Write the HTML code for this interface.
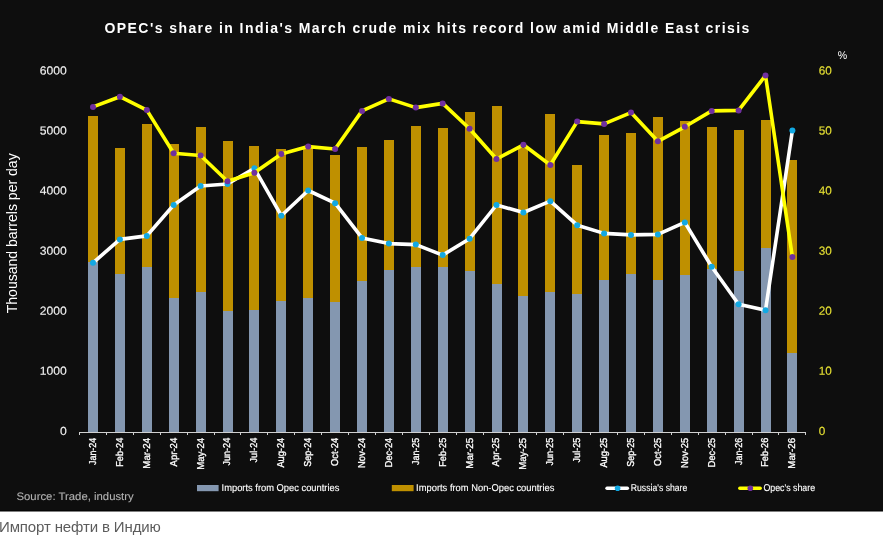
<!DOCTYPE html>
<html lang="ru"><head><meta charset="utf-8"><title>Импорт нефти в Индию</title>
<style>
html,body{margin:0;padding:0;background:#fff;}
body{width:883px;height:541px;overflow:hidden;position:relative;font-family:"Liberation Sans",sans-serif;}
svg{display:block;position:absolute;left:0;top:0;}
text{font-family:"Liberation Sans",sans-serif;}
.cap{position:absolute;left:-1px;top:517px;margin:0;font-size:15px;line-height:20px;color:#5c5c5c;white-space:nowrap;letter-spacing:-0.13px;}
</style></head><body>
<svg width="883" height="541" viewBox="0 0 883 541">
<rect x="0" y="0" width="883" height="511.5" fill="#000"/><rect x="0" y="0" width="883" height="510.4" fill="#0e0e0e"/>
<text x="104.5" y="32.7" font-size="14" font-weight="bold" fill="#fff" textLength="644.8" lengthAdjust="spacing">OPEC's share in India's March crude mix hits record low amid Middle East crisis</text>
<text transform="translate(16.9,313.3) rotate(-90)" font-size="14" fill="#fff" textLength="160" lengthAdjust="spacingAndGlyphs">Thousand barrels per day</text>
<text transform="translate(66.7,434.90) rotate(0.03)" textLength="6.8" lengthAdjust="spacingAndGlyphs" font-size="11.7" text-rendering="geometricPrecision" stroke="#f2f2f2" stroke-width="0.12" fill="#f2f2f2" text-anchor="end">0</text>
<text transform="translate(818.7,434.90) rotate(0.03)" font-size="11.7" text-rendering="geometricPrecision" stroke="#e6e033" stroke-width="0.12" fill="#e6e033">0</text>
<text transform="translate(66.7,374.82) rotate(0.03)" textLength="27.0" lengthAdjust="spacingAndGlyphs" font-size="11.7" text-rendering="geometricPrecision" stroke="#f2f2f2" stroke-width="0.12" fill="#f2f2f2" text-anchor="end">1000</text>
<text transform="translate(818.7,374.82) rotate(0.03)" font-size="11.7" text-rendering="geometricPrecision" stroke="#e6e033" stroke-width="0.12" fill="#e6e033">10</text>
<text transform="translate(66.7,314.74) rotate(0.03)" textLength="27.0" lengthAdjust="spacingAndGlyphs" font-size="11.7" text-rendering="geometricPrecision" stroke="#f2f2f2" stroke-width="0.12" fill="#f2f2f2" text-anchor="end">2000</text>
<text transform="translate(818.7,314.74) rotate(0.03)" font-size="11.7" text-rendering="geometricPrecision" stroke="#e6e033" stroke-width="0.12" fill="#e6e033">20</text>
<text transform="translate(66.7,254.66) rotate(0.03)" textLength="27.0" lengthAdjust="spacingAndGlyphs" font-size="11.7" text-rendering="geometricPrecision" stroke="#f2f2f2" stroke-width="0.12" fill="#f2f2f2" text-anchor="end">3000</text>
<text transform="translate(818.7,254.66) rotate(0.03)" font-size="11.7" text-rendering="geometricPrecision" stroke="#e6e033" stroke-width="0.12" fill="#e6e033">30</text>
<text transform="translate(66.7,194.58) rotate(0.03)" textLength="27.0" lengthAdjust="spacingAndGlyphs" font-size="11.7" text-rendering="geometricPrecision" stroke="#f2f2f2" stroke-width="0.12" fill="#f2f2f2" text-anchor="end">4000</text>
<text transform="translate(818.7,194.58) rotate(0.03)" font-size="11.7" text-rendering="geometricPrecision" stroke="#e6e033" stroke-width="0.12" fill="#e6e033">40</text>
<text transform="translate(66.7,134.50) rotate(0.03)" textLength="27.0" lengthAdjust="spacingAndGlyphs" font-size="11.7" text-rendering="geometricPrecision" stroke="#f2f2f2" stroke-width="0.12" fill="#f2f2f2" text-anchor="end">5000</text>
<text transform="translate(818.7,134.50) rotate(0.03)" font-size="11.7" text-rendering="geometricPrecision" stroke="#e6e033" stroke-width="0.12" fill="#e6e033">50</text>
<text transform="translate(66.7,74.42) rotate(0.03)" textLength="27.0" lengthAdjust="spacingAndGlyphs" font-size="11.7" text-rendering="geometricPrecision" stroke="#f2f2f2" stroke-width="0.12" fill="#f2f2f2" text-anchor="end">6000</text>
<text transform="translate(818.7,74.42) rotate(0.03)" font-size="11.7" text-rendering="geometricPrecision" stroke="#e6e033" stroke-width="0.12" fill="#e6e033">60</text>
<text x="837.8" y="59.2" font-size="11.2" text-rendering="geometricPrecision" fill="#fff" textLength="9.4" lengthAdjust="spacingAndGlyphs">%</text>
<g shape-rendering="crispEdges">
<rect x="88.0" y="115.9" width="10" height="146.4" fill="#bf9000"/><rect x="88.0" y="262.3" width="10" height="169.5" fill="#8497b0"/>
<rect x="114.9" y="147.8" width="10" height="126.0" fill="#bf9000"/><rect x="114.9" y="273.8" width="10" height="158.0" fill="#8497b0"/>
<rect x="141.8" y="124.1" width="10" height="143.2" fill="#bf9000"/><rect x="141.8" y="267.3" width="10" height="164.5" fill="#8497b0"/>
<rect x="168.7" y="143.6" width="10" height="154.4" fill="#bf9000"/><rect x="168.7" y="298.0" width="10" height="133.8" fill="#8497b0"/>
<rect x="195.6" y="127.3" width="10" height="165.0" fill="#bf9000"/><rect x="195.6" y="292.3" width="10" height="139.5" fill="#8497b0"/>
<rect x="222.5" y="140.8" width="10" height="170.2" fill="#bf9000"/><rect x="222.5" y="311.0" width="10" height="120.8" fill="#8497b0"/>
<rect x="249.4" y="146.1" width="10" height="163.6" fill="#bf9000"/><rect x="249.4" y="309.7" width="10" height="122.1" fill="#8497b0"/>
<rect x="276.3" y="148.5" width="10" height="152.5" fill="#bf9000"/><rect x="276.3" y="301.0" width="10" height="130.8" fill="#8497b0"/>
<rect x="303.2" y="146.3" width="10" height="151.5" fill="#bf9000"/><rect x="303.2" y="297.8" width="10" height="134.0" fill="#8497b0"/>
<rect x="330.1" y="154.8" width="10" height="147.0" fill="#bf9000"/><rect x="330.1" y="301.8" width="10" height="130.0" fill="#8497b0"/>
<rect x="357.0" y="147.1" width="10" height="133.7" fill="#bf9000"/><rect x="357.0" y="280.8" width="10" height="151.0" fill="#8497b0"/>
<rect x="383.9" y="140.1" width="10" height="130.2" fill="#bf9000"/><rect x="383.9" y="270.3" width="10" height="161.5" fill="#8497b0"/>
<rect x="410.8" y="126.1" width="10" height="141.2" fill="#bf9000"/><rect x="410.8" y="267.3" width="10" height="164.5" fill="#8497b0"/>
<rect x="437.7" y="128.1" width="10" height="139.2" fill="#bf9000"/><rect x="437.7" y="267.3" width="10" height="164.5" fill="#8497b0"/>
<rect x="464.6" y="112.4" width="10" height="158.9" fill="#bf9000"/><rect x="464.6" y="271.3" width="10" height="160.5" fill="#8497b0"/>
<rect x="491.5" y="105.6" width="10" height="178.2" fill="#bf9000"/><rect x="491.5" y="283.8" width="10" height="148.0" fill="#8497b0"/>
<rect x="518.4" y="148.0" width="10" height="148.0" fill="#bf9000"/><rect x="518.4" y="296.0" width="10" height="135.8" fill="#8497b0"/>
<rect x="545.3" y="113.9" width="10" height="177.9" fill="#bf9000"/><rect x="545.3" y="291.8" width="10" height="140.0" fill="#8497b0"/>
<rect x="572.2" y="164.8" width="10" height="129.2" fill="#bf9000"/><rect x="572.2" y="294.0" width="10" height="137.8" fill="#8497b0"/>
<rect x="599.1" y="134.8" width="10" height="145.0" fill="#bf9000"/><rect x="599.1" y="279.8" width="10" height="152.0" fill="#8497b0"/>
<rect x="626.0" y="132.6" width="10" height="141.2" fill="#bf9000"/><rect x="626.0" y="273.8" width="10" height="158.0" fill="#8497b0"/>
<rect x="652.9" y="117.4" width="10" height="162.4" fill="#bf9000"/><rect x="652.9" y="279.8" width="10" height="152.0" fill="#8497b0"/>
<rect x="679.8" y="121.1" width="10" height="153.7" fill="#bf9000"/><rect x="679.8" y="274.8" width="10" height="157.0" fill="#8497b0"/>
<rect x="706.7" y="126.8" width="10" height="142.0" fill="#bf9000"/><rect x="706.7" y="268.8" width="10" height="163.0" fill="#8497b0"/>
<rect x="733.6" y="130.1" width="10" height="141.2" fill="#bf9000"/><rect x="733.6" y="271.3" width="10" height="160.5" fill="#8497b0"/>
<rect x="760.5" y="119.9" width="10" height="127.7" fill="#bf9000"/><rect x="760.5" y="247.6" width="10" height="184.2" fill="#8497b0"/>
<rect x="787.4" y="160.3" width="10" height="192.6" fill="#bf9000"/><rect x="787.4" y="352.9" width="10" height="78.9" fill="#8497b0"/>
</g>
<g stroke="#d0d0d0" stroke-width="1" shape-rendering="crispEdges"><line x1="79" y1="432.0" x2="806" y2="432.0"/><line x1="79.5" y1="431.8" x2="79.5" y2="435.0"/><line x1="106.4" y1="431.8" x2="106.4" y2="435.0"/><line x1="133.3" y1="431.8" x2="133.3" y2="435.0"/><line x1="160.2" y1="431.8" x2="160.2" y2="435.0"/><line x1="187.1" y1="431.8" x2="187.1" y2="435.0"/><line x1="214.0" y1="431.8" x2="214.0" y2="435.0"/><line x1="240.9" y1="431.8" x2="240.9" y2="435.0"/><line x1="267.8" y1="431.8" x2="267.8" y2="435.0"/><line x1="294.7" y1="431.8" x2="294.7" y2="435.0"/><line x1="321.6" y1="431.8" x2="321.6" y2="435.0"/><line x1="348.5" y1="431.8" x2="348.5" y2="435.0"/><line x1="375.4" y1="431.8" x2="375.4" y2="435.0"/><line x1="402.3" y1="431.8" x2="402.3" y2="435.0"/><line x1="429.2" y1="431.8" x2="429.2" y2="435.0"/><line x1="456.1" y1="431.8" x2="456.1" y2="435.0"/><line x1="483.0" y1="431.8" x2="483.0" y2="435.0"/><line x1="509.9" y1="431.8" x2="509.9" y2="435.0"/><line x1="536.8" y1="431.8" x2="536.8" y2="435.0"/><line x1="563.7" y1="431.8" x2="563.7" y2="435.0"/><line x1="590.6" y1="431.8" x2="590.6" y2="435.0"/><line x1="617.5" y1="431.8" x2="617.5" y2="435.0"/><line x1="644.4" y1="431.8" x2="644.4" y2="435.0"/><line x1="671.3" y1="431.8" x2="671.3" y2="435.0"/><line x1="698.2" y1="431.8" x2="698.2" y2="435.0"/><line x1="725.1" y1="431.8" x2="725.1" y2="435.0"/><line x1="752.0" y1="431.8" x2="752.0" y2="435.0"/><line x1="778.9" y1="431.8" x2="778.9" y2="435.0"/><line x1="805.8" y1="431.8" x2="805.8" y2="435.0"/></g>
<text transform="translate(95.9,465.0) rotate(-90)" font-size="10" text-rendering="geometricPrecision" fill="#fff" stroke="#fff" stroke-width="0.32" textLength="27.2" lengthAdjust="spacingAndGlyphs">Jan-24</text>
<text transform="translate(122.8,466.7) rotate(-90)" font-size="10" text-rendering="geometricPrecision" fill="#fff" stroke="#fff" stroke-width="0.32" textLength="28.9" lengthAdjust="spacingAndGlyphs">Feb-24</text>
<text transform="translate(149.7,468.7) rotate(-90)" font-size="10" text-rendering="geometricPrecision" fill="#fff" stroke="#fff" stroke-width="0.32" textLength="30.9" lengthAdjust="spacingAndGlyphs">Mar-24</text>
<text transform="translate(176.6,466.4) rotate(-90)" font-size="10" text-rendering="geometricPrecision" fill="#fff" stroke="#fff" stroke-width="0.32" textLength="28.6" lengthAdjust="spacingAndGlyphs">Apr-24</text>
<text transform="translate(203.5,469.8) rotate(-90)" font-size="10" text-rendering="geometricPrecision" fill="#fff" stroke="#fff" stroke-width="0.32" textLength="32.0" lengthAdjust="spacingAndGlyphs">May-24</text>
<text transform="translate(230.4,465.5) rotate(-90)" font-size="10" text-rendering="geometricPrecision" fill="#fff" stroke="#fff" stroke-width="0.32" textLength="27.7" lengthAdjust="spacingAndGlyphs">Jun-24</text>
<text transform="translate(257.3,462.4) rotate(-90)" font-size="10" text-rendering="geometricPrecision" fill="#fff" stroke="#fff" stroke-width="0.32" textLength="24.6" lengthAdjust="spacingAndGlyphs">Jul-24</text>
<text transform="translate(284.2,467.6) rotate(-90)" font-size="10" text-rendering="geometricPrecision" fill="#fff" stroke="#fff" stroke-width="0.32" textLength="29.8" lengthAdjust="spacingAndGlyphs">Aug-24</text>
<text transform="translate(311.1,466.7) rotate(-90)" font-size="10" text-rendering="geometricPrecision" fill="#fff" stroke="#fff" stroke-width="0.32" textLength="28.9" lengthAdjust="spacingAndGlyphs">Sep-24</text>
<text transform="translate(338.0,466.0) rotate(-90)" font-size="10" text-rendering="geometricPrecision" fill="#fff" stroke="#fff" stroke-width="0.32" textLength="28.2" lengthAdjust="spacingAndGlyphs">Oct-24</text>
<text transform="translate(364.9,468.1) rotate(-90)" font-size="10" text-rendering="geometricPrecision" fill="#fff" stroke="#fff" stroke-width="0.32" textLength="30.3" lengthAdjust="spacingAndGlyphs">Nov-24</text>
<text transform="translate(391.8,467.2) rotate(-90)" font-size="10" text-rendering="geometricPrecision" fill="#fff" stroke="#fff" stroke-width="0.32" textLength="29.4" lengthAdjust="spacingAndGlyphs">Dec-24</text>
<text transform="translate(418.7,465.0) rotate(-90)" font-size="10" text-rendering="geometricPrecision" fill="#fff" stroke="#fff" stroke-width="0.32" textLength="27.2" lengthAdjust="spacingAndGlyphs">Jan-25</text>
<text transform="translate(445.6,466.7) rotate(-90)" font-size="10" text-rendering="geometricPrecision" fill="#fff" stroke="#fff" stroke-width="0.32" textLength="28.9" lengthAdjust="spacingAndGlyphs">Feb-25</text>
<text transform="translate(472.5,468.7) rotate(-90)" font-size="10" text-rendering="geometricPrecision" fill="#fff" stroke="#fff" stroke-width="0.32" textLength="30.9" lengthAdjust="spacingAndGlyphs">Mar-25</text>
<text transform="translate(499.4,466.4) rotate(-90)" font-size="10" text-rendering="geometricPrecision" fill="#fff" stroke="#fff" stroke-width="0.32" textLength="28.6" lengthAdjust="spacingAndGlyphs">Apr-25</text>
<text transform="translate(526.3,469.8) rotate(-90)" font-size="10" text-rendering="geometricPrecision" fill="#fff" stroke="#fff" stroke-width="0.32" textLength="32.0" lengthAdjust="spacingAndGlyphs">May-25</text>
<text transform="translate(553.2,465.5) rotate(-90)" font-size="10" text-rendering="geometricPrecision" fill="#fff" stroke="#fff" stroke-width="0.32" textLength="27.7" lengthAdjust="spacingAndGlyphs">Jun-25</text>
<text transform="translate(580.1,462.4) rotate(-90)" font-size="10" text-rendering="geometricPrecision" fill="#fff" stroke="#fff" stroke-width="0.32" textLength="24.6" lengthAdjust="spacingAndGlyphs">Jul-25</text>
<text transform="translate(607.0,467.6) rotate(-90)" font-size="10" text-rendering="geometricPrecision" fill="#fff" stroke="#fff" stroke-width="0.32" textLength="29.8" lengthAdjust="spacingAndGlyphs">Aug-25</text>
<text transform="translate(633.9,466.7) rotate(-90)" font-size="10" text-rendering="geometricPrecision" fill="#fff" stroke="#fff" stroke-width="0.32" textLength="28.9" lengthAdjust="spacingAndGlyphs">Sep-25</text>
<text transform="translate(660.8,466.0) rotate(-90)" font-size="10" text-rendering="geometricPrecision" fill="#fff" stroke="#fff" stroke-width="0.32" textLength="28.2" lengthAdjust="spacingAndGlyphs">Oct-25</text>
<text transform="translate(687.7,468.1) rotate(-90)" font-size="10" text-rendering="geometricPrecision" fill="#fff" stroke="#fff" stroke-width="0.32" textLength="30.3" lengthAdjust="spacingAndGlyphs">Nov-25</text>
<text transform="translate(714.6,467.2) rotate(-90)" font-size="10" text-rendering="geometricPrecision" fill="#fff" stroke="#fff" stroke-width="0.32" textLength="29.4" lengthAdjust="spacingAndGlyphs">Dec-25</text>
<text transform="translate(741.5,465.0) rotate(-90)" font-size="10" text-rendering="geometricPrecision" fill="#fff" stroke="#fff" stroke-width="0.32" textLength="27.2" lengthAdjust="spacingAndGlyphs">Jan-26</text>
<text transform="translate(768.4,466.7) rotate(-90)" font-size="10" text-rendering="geometricPrecision" fill="#fff" stroke="#fff" stroke-width="0.32" textLength="28.9" lengthAdjust="spacingAndGlyphs">Feb-26</text>
<text transform="translate(795.3,468.7) rotate(-90)" font-size="10" text-rendering="geometricPrecision" fill="#fff" stroke="#fff" stroke-width="0.32" textLength="30.9" lengthAdjust="spacingAndGlyphs">Mar-26</text>
<polyline points="93.0,262.8 119.9,239.4 146.8,235.9 173.7,205.0 200.6,186.0 227.5,184.0 254.4,168.3 281.3,215.7 308.2,190.5 335.1,203.2 362.0,237.9 388.9,243.6 415.8,244.6 442.7,255.1 469.6,238.7 496.5,205.0 523.4,212.5 550.3,201.2 577.2,225.2 604.1,233.4 631.0,234.9 657.9,234.4 684.8,222.4 711.7,266.8 738.6,304.3 765.5,310.2 792.4,130.6" fill="none" stroke="#ffffff" stroke-width="3.6" stroke-linejoin="round" stroke-linecap="round"/>
<circle cx="93.0" cy="262.8" r="3" fill="#12a9e3"/><circle cx="119.9" cy="239.4" r="3" fill="#12a9e3"/><circle cx="146.8" cy="235.9" r="3" fill="#12a9e3"/><circle cx="173.7" cy="205.0" r="3" fill="#12a9e3"/><circle cx="200.6" cy="186.0" r="3" fill="#12a9e3"/><circle cx="227.5" cy="184.0" r="3" fill="#12a9e3"/><circle cx="254.4" cy="168.3" r="3" fill="#12a9e3"/><circle cx="281.3" cy="215.7" r="3" fill="#12a9e3"/><circle cx="308.2" cy="190.5" r="3" fill="#12a9e3"/><circle cx="335.1" cy="203.2" r="3" fill="#12a9e3"/><circle cx="362.0" cy="237.9" r="3" fill="#12a9e3"/><circle cx="388.9" cy="243.6" r="3" fill="#12a9e3"/><circle cx="415.8" cy="244.6" r="3" fill="#12a9e3"/><circle cx="442.7" cy="255.1" r="3" fill="#12a9e3"/><circle cx="469.6" cy="238.7" r="3" fill="#12a9e3"/><circle cx="496.5" cy="205.0" r="3" fill="#12a9e3"/><circle cx="523.4" cy="212.5" r="3" fill="#12a9e3"/><circle cx="550.3" cy="201.2" r="3" fill="#12a9e3"/><circle cx="577.2" cy="225.2" r="3" fill="#12a9e3"/><circle cx="604.1" cy="233.4" r="3" fill="#12a9e3"/><circle cx="631.0" cy="234.9" r="3" fill="#12a9e3"/><circle cx="657.9" cy="234.4" r="3" fill="#12a9e3"/><circle cx="684.8" cy="222.4" r="3" fill="#12a9e3"/><circle cx="711.7" cy="266.8" r="3" fill="#12a9e3"/><circle cx="738.6" cy="304.3" r="3" fill="#12a9e3"/><circle cx="765.5" cy="310.2" r="3" fill="#12a9e3"/><circle cx="792.4" cy="130.6" r="3" fill="#12a9e3"/>
<polyline points="93.0,106.9 119.9,96.7 146.8,110.1 173.7,153.3 200.6,155.5 227.5,181.2 254.4,172.7 281.3,154.0 308.2,146.6 335.1,149.0 362.0,110.9 388.9,98.9 415.8,107.6 442.7,103.4 469.6,128.8 496.5,159.0 523.4,144.8 550.3,165.0 577.2,121.6 604.1,123.9 631.0,112.6 657.9,141.3 684.8,126.8 711.7,110.9 738.6,110.4 765.5,75.5 792.4,257.1" fill="none" stroke="#ffff00" stroke-width="3.6" stroke-linejoin="round" stroke-linecap="round"/>
<circle cx="93.0" cy="106.9" r="3" fill="#7030a0"/><circle cx="119.9" cy="96.7" r="3" fill="#7030a0"/><circle cx="146.8" cy="110.1" r="3" fill="#7030a0"/><circle cx="173.7" cy="153.3" r="3" fill="#7030a0"/><circle cx="200.6" cy="155.5" r="3" fill="#7030a0"/><circle cx="227.5" cy="181.2" r="3" fill="#7030a0"/><circle cx="254.4" cy="172.7" r="3" fill="#7030a0"/><circle cx="281.3" cy="154.0" r="3" fill="#7030a0"/><circle cx="308.2" cy="146.6" r="3" fill="#7030a0"/><circle cx="335.1" cy="149.0" r="3" fill="#7030a0"/><circle cx="362.0" cy="110.9" r="3" fill="#7030a0"/><circle cx="388.9" cy="98.9" r="3" fill="#7030a0"/><circle cx="415.8" cy="107.6" r="3" fill="#7030a0"/><circle cx="442.7" cy="103.4" r="3" fill="#7030a0"/><circle cx="469.6" cy="128.8" r="3" fill="#7030a0"/><circle cx="496.5" cy="159.0" r="3" fill="#7030a0"/><circle cx="523.4" cy="144.8" r="3" fill="#7030a0"/><circle cx="550.3" cy="165.0" r="3" fill="#7030a0"/><circle cx="577.2" cy="121.6" r="3" fill="#7030a0"/><circle cx="604.1" cy="123.9" r="3" fill="#7030a0"/><circle cx="631.0" cy="112.6" r="3" fill="#7030a0"/><circle cx="657.9" cy="141.3" r="3" fill="#7030a0"/><circle cx="684.8" cy="126.8" r="3" fill="#7030a0"/><circle cx="711.7" cy="110.9" r="3" fill="#7030a0"/><circle cx="738.6" cy="110.4" r="3" fill="#7030a0"/><circle cx="765.5" cy="75.5" r="3" fill="#7030a0"/><circle cx="792.4" cy="257.1" r="3" fill="#7030a0"/>
<rect x="197" y="485" width="21.6" height="6.2" fill="#8497b0"/>
<text x="221.6" y="491.2" font-size="9.9" text-rendering="geometricPrecision" fill="#fff" stroke="#fff" stroke-width="0.12" textLength="117.8" lengthAdjust="spacingAndGlyphs">Imports from Opec countries</text>
<rect x="391.8" y="485" width="21.8" height="6.2" fill="#bf9000"/>
<text x="416.1" y="491.2" font-size="9.9" text-rendering="geometricPrecision" fill="#fff" stroke="#fff" stroke-width="0.12" textLength="138.3" lengthAdjust="spacingAndGlyphs">Imports from Non-Opec countries</text>
<line x1="607" y1="488.2" x2="627.4" y2="488.2" stroke="#fff" stroke-width="3.4" stroke-linecap="round"/><circle cx="617.6" cy="488.2" r="2.8" fill="#12a9e3"/>
<text x="630.8" y="491.2" font-size="9.9" text-rendering="geometricPrecision" fill="#fff" stroke="#fff" stroke-width="0.12" textLength="56.5" lengthAdjust="spacingAndGlyphs">Russia's share</text>
<line x1="739.8" y1="488.2" x2="760.2" y2="488.2" stroke="#ffff00" stroke-width="3.4" stroke-linecap="round"/><circle cx="750.3" cy="488.2" r="2.8" fill="#7030a0"/>
<text x="763.4" y="491.2" font-size="9.9" text-rendering="geometricPrecision" fill="#fff" stroke="#fff" stroke-width="0.12" textLength="51.7" lengthAdjust="spacingAndGlyphs">Opec's share</text>
<text x="16.5" y="499.5" font-size="10.9" text-rendering="geometricPrecision" fill="#b2b2b2" stroke="#b2b2b2" stroke-width="0.1" textLength="117.2" lengthAdjust="spacingAndGlyphs">Source: Trade, industry</text>
</svg>
<p class="cap">Импорт нефти в Индию</p>
</body></html>
